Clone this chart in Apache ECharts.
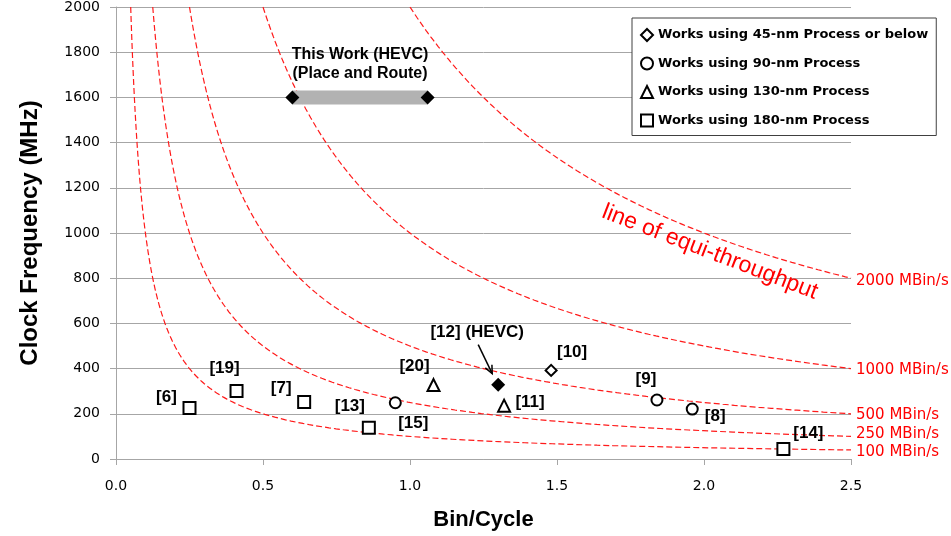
<!DOCTYPE html>
<html>
<head>
<meta charset="utf-8">
<script src="https://cdn.jsdelivr.net/npm/echarts@6/dist/echarts.min.js"></script>
<style>
  html, body { margin: 0; padding: 0; background: #fff; }
  #chart { width: 951px; height: 536px; }
</style>
</head>
<body>
<div id="chart"></div>
<script>
// [bin/cycle, clock MHz, reference]
const works45nm = [[1.48, 392, '[10]']]
const works90nm = [[0.95, 249, '[15]'], [1.84, 261, '[9]'], [1.96, 221, '[8]']]
const works130nm = [[1.08, 327, '[20]'], [1.32, 236, '[11]']]
const works180nm = [[0.25, 226, '[6]'], [0.41, 301, '[19]'], [0.64, 252, '[7]'], [0.86, 138, '[13]'], [2.27, 44, '[14]']]
const hevcWork = [[1.30, 329, '[12] (HEVC)']]
const thisWork = [[0.60, 1600], [1.06, 1600]]
// equi-throughput levels, MBin/s
const throughputs = [100, 250, 500, 1000, 2000]
const legendNames = [
  'Works using 45-nm Process or below',
  'Works using 90-nm Process',
  'Works using 130-nm Process',
  'Works using 180-nm Process'
]

// label offsets in px from the marker
const labelOffset = {
  '[6]': [-23, -11], '[19]': [-12, -23], '[7]': [-23, -14], '[13]': [-19, -21],
  '[15]': [18, 21], '[20]': [-19, -19], '[11]': [26, -3], '[10]': [21, -18],
  '[9]': [-11, -21], '[8]': [23, 7], '[14]': [25, -16], '[12] (HEVC)': [-21, -52]
}
const endLabelOffset = { 100: [0, 2], 250: [0, -2], 500: [0, 1], 1000: [0, 2], 2000: [0, 3] }

const xMax = 2.5
const yMax = 2000

const curveData = (t) => {
  const x0 = t / yMax
  const pts = []
  for (let i = 0; i <= 120; i++) {
    const x = x0 * Math.pow(xMax / x0, i / 120)
    pts.push([x, t / x])
  }
  return pts
}

const labelFont = {
  color: '#000', fontWeight: 'bold', fontSize: 17, fontFamily: 'Liberation Sans'
}

const refSeries = (name, symbol, size, points) => ({
  name,
  type: 'scatter',
  symbol,
  symbolSize: size,
  z: 5,
  itemStyle: { color: '#fff', borderColor: '#000', borderWidth: 2, opacity: 1 },
  label: { show: true, position: 'inside', formatter: '{b}', ...labelFont },
  emphasis: { disabled: true },
  data: points.map((p) => ({ name: p[2], value: [p[0], p[1]], label: { offset: labelOffset[p[2]] } }))
})

const chart = echarts.init(document.getElementById('chart'))

const curveSeries = throughputs.map((t) => ({
  name: t + ' MBin/s',
  type: 'line',
  showSymbol: false,
  symbol: 'none',
  z: 2,
  lineStyle: { color: '#ff1a1a', width: 1.2, type: [6, 3] },
  emphasis: { disabled: true },
  endLabel: {
    show: true,
    formatter: t + ' MBin/s',
    color: '#ff0000',
    fontSize: 15,
    fontFamily: 'DejaVu Sans',
    distance: 5,
    offset: endLabelOffset[t]
  },
  markPoint: t === 2000 ? {
    symbol: 'circle',
    symbolSize: 0,
    silent: true,
    data: [{ coord: [2.02, 915] }],
    label: {
      show: true,
      formatter: 'line of equi-throughput',
      rotate: -21,
      color: '#ff0000',
      fontSize: 23,
      fontFamily: 'Liberation Sans'
    }
  } : undefined,
  data: curveData(t)
}))

chart.setOption({
  animation: false,
  backgroundColor: '#fff',
  grid: { left: 116, top: 7, width: 735, height: 453 },
  legend: {
    data: legendNames,
    orient: 'vertical',
    left: 632,
    top: 18,
    padding: [9, 8, 7, 8],
    itemWidth: 12,
    itemHeight: 12,
    itemGap: 12.5,
    selectedMode: false,
    backgroundColor: '#fff',
    borderColor: '#404040',
    borderWidth: 1,
    textStyle: { color: '#000', fontWeight: 'bold', fontSize: 13, fontFamily: 'DejaVu Sans', lineHeight: 16 }
  },
  xAxis: {
    type: 'value',
    min: 0,
    max: xMax,
    interval: 0.5,
    name: 'Bin/Cycle',
    nameLocation: 'middle',
    nameGap: 50,
    nameTextStyle: { color: '#000', fontWeight: 'bold', fontSize: 22, fontFamily: 'Liberation Sans' },
    axisLine: { show: true, lineStyle: { color: '#a6a6a6' } },
    axisTick: { show: true, length: 6, lineStyle: { color: '#a6a6a6' } },
    axisLabel: {
      margin: 20, color: '#000', fontSize: 14, fontFamily: 'DejaVu Sans',
      formatter: (v) => v.toFixed(1)
    },
    splitLine: { show: false }
  },
  yAxis: {
    type: 'value',
    min: 0,
    max: yMax,
    interval: 200,
    name: 'Clock Frequency (MHz)',
    nameLocation: 'middle',
    nameGap: 74,
    nameTextStyle: { color: '#000', fontWeight: 'bold', fontSize: 24, fontFamily: 'Liberation Sans' },
    axisLine: { show: true, lineStyle: { color: '#a6a6a6' } },
    axisTick: { show: true, length: 6, lineStyle: { color: '#a6a6a6' } },
    axisLabel: {
      margin: 16, color: '#000', fontSize: 14, fontFamily: 'DejaVu Sans',
      formatter: (v) => String(v)
    },
    splitLine: { show: true, lineStyle: { color: '#a6a6a6' } }
  },
  series: [
    ...curveSeries,
    {
      name: 'This Work',
      type: 'line',
      symbol: 'diamond',
      symbolSize: 14,
      z: 4,
      itemStyle: { color: '#000' },
      lineStyle: { color: '#b2b2b2', width: 14, cap: 'butt' },
      emphasis: { disabled: true },
      markPoint: {
        symbol: 'circle',
        symbolSize: 0,
        silent: true,
        data: [{ coord: [(thisWork[0][0] + thisWork[1][0]) / 2, thisWork[0][1]] }],
        label: {
          show: true,
          formatter: 'This Work (HEVC)\n(Place and Route)',
          offset: [0, -33],
          lineHeight: 19,
          ...labelFont,
          fontSize: 16
        }
      },
      data: thisWork
    },
    refSeries(legendNames[0], 'diamond', 11, works45nm),
    refSeries(legendNames[1], 'circle', 11, works90nm),
    refSeries(legendNames[2], 'triangle', 12, works130nm),
    refSeries(legendNames[3], 'rect', 12, works180nm),
    {
      name: 'HEVC',
      type: 'scatter',
      symbol: 'diamond',
      symbolSize: 14,
      z: 5,
      itemStyle: { color: '#000', opacity: 1 },
      label: { show: true, position: 'inside', formatter: '{b}', ...labelFont },
      emphasis: { disabled: true },
      data: hevcWork.map((p) => ({ name: p[2], value: [p[0], p[1]], label: { offset: labelOffset[p[2]] } }))
    }
  ]
})

// arrow from the [12] label to its marker
const tip = chart.convertToPixel({ gridIndex: 0 }, hevcWork[0].slice(0, 2))
const x1 = tip[0] - 20, y1 = tip[1] - 40
const x2 = tip[0] - 6, y2 = tip[1] - 11
const ang = Math.atan2(y2 - y1, x2 - x1)
const head = 9, spread = 0.42
chart.setOption({
  graphic: [
    { type: 'line', z: 10, shape: { x1, y1, x2, y2 }, style: { stroke: '#000', lineWidth: 1.5 } },
    {
      type: 'polyline',
      z: 10,
      shape: {
        points: [
          [x2 - head * Math.cos(ang - spread), y2 - head * Math.sin(ang - spread)],
          [x2, y2],
          [x2 - head * Math.cos(ang + spread), y2 - head * Math.sin(ang + spread)]
        ]
      },
      style: { stroke: '#000', lineWidth: 1.5, fill: null }
    }
  ]
})
</script>
</body>
</html>
